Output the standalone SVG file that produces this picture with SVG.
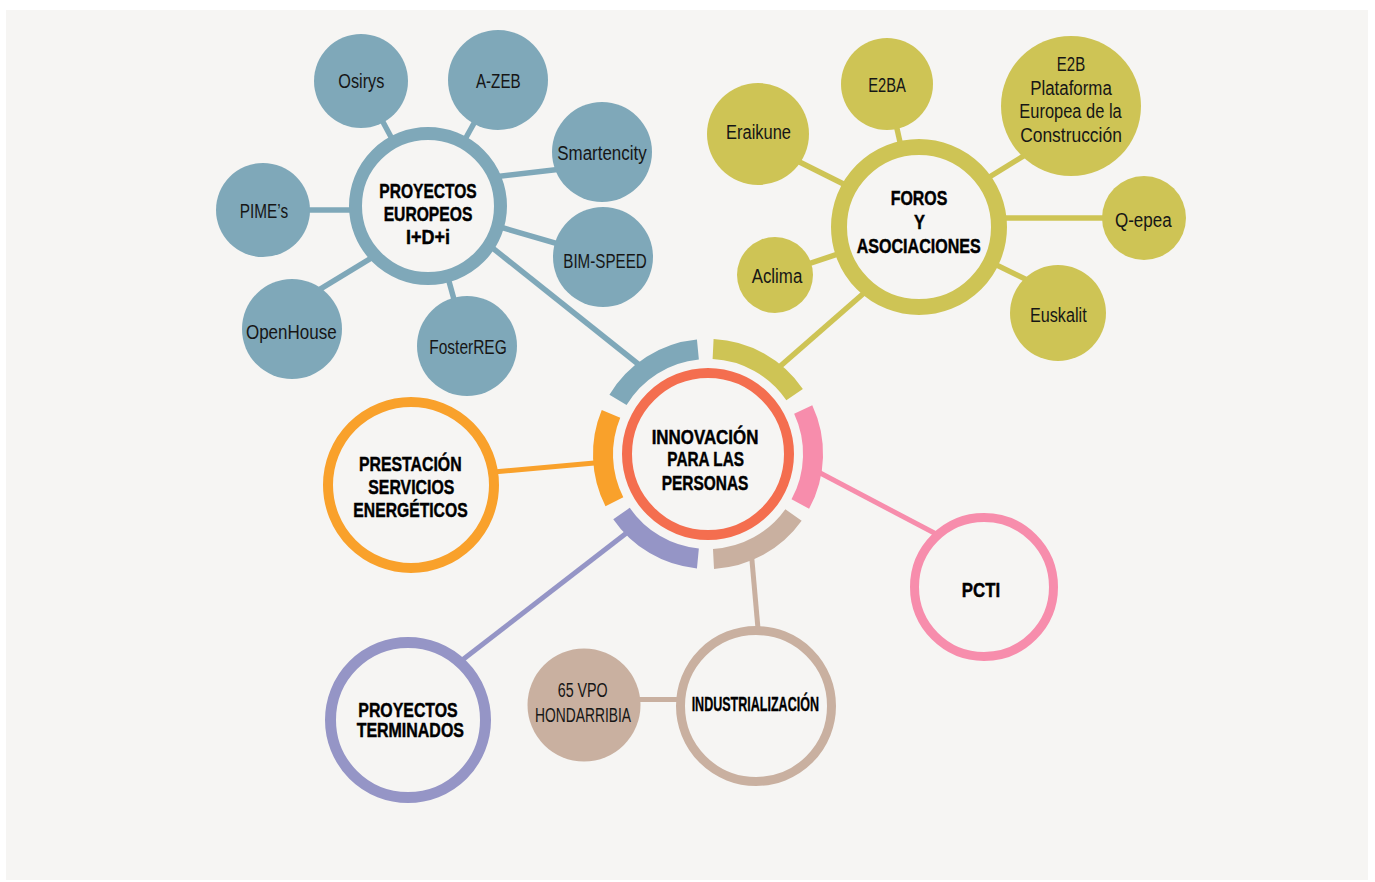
<svg xmlns="http://www.w3.org/2000/svg" width="1375" height="882" viewBox="0 0 1375 882">
<style>
.lbl{font-family:"Liberation Sans Narrow","Liberation Sans","DejaVu Sans Condensed",sans-serif;font-size:19.5px;fill:#161616;text-anchor:middle}
.bold{font-family:"Liberation Sans Narrow","Liberation Sans","DejaVu Sans Condensed",sans-serif;font-weight:700;font-size:20.5px;fill:#000000;stroke:#000000;stroke-width:0.45px;text-anchor:middle}
.teal{stroke:#7fa8b9}.olive{stroke:#cec455}.orange{stroke:#f9a12b}.red{stroke:#f46e4f}.pink{stroke:#f78dac}.purple{stroke:#9595c6}.tan{stroke:#c9b0a0}
.con{fill:none;stroke-width:5.5}
.seg{fill:none;stroke-width:20}
.ring{fill:#f6f5f3}
.tealf{fill:#7fa8b9}.olivef{fill:#cec455}.tanf{fill:#c9b0a0}
</style>
<rect x="0" y="0" width="1375" height="882" fill="#ffffff"/>
<rect x="6" y="10" width="1362" height="870" fill="#f6f5f3"/>

<g id="connectors">
  <line class="con teal" x1="361" y1="81" x2="428" y2="206"/>
  <line class="con teal" x1="498" y1="80" x2="428" y2="206"/>
  <line class="con teal" x1="470" y1="179.7" x2="590" y2="165.8"/>
  <line class="con teal" x1="603" y1="257" x2="428" y2="206"/>
  <line class="con teal" x1="467" y1="346" x2="428" y2="206"/>
  <line class="con teal" x1="300" y1="301.3" x2="400" y2="240.6"/>
  <line class="con teal" x1="263" y1="210" x2="428" y2="210"/>
  <line class="con teal" x1="470" y1="230" x2="650" y2="373.5"/>

  <line class="con olive" x1="887" y1="84" x2="919" y2="227"/>
  <line class="con olive" x1="770" y1="147.2" x2="870" y2="197.2"/>
  <line class="con olive" x1="970" y1="189" x2="1040" y2="145.8"/>
  <line class="con olive" x1="919" y1="218" x2="1144" y2="218"/>
  <line class="con olive" x1="980" y1="256.9" x2="1040" y2="286.3"/>
  <line class="con olive" x1="775" y1="275" x2="919" y2="227"/>
  <line class="con olive" x1="870" y1="287.7" x2="775" y2="370.8"/>

  <line class="con orange" x1="460" y1="475" x2="600" y2="462.6" style="stroke-width:5"/>
  <line class="con pink" x1="815" y1="470.3" x2="950" y2="541.3" style="stroke-width:5"/>
  <line class="con purple" x1="450" y1="669.6" x2="632" y2="528.7" style="stroke-width:5"/>
  <line class="con tan" x1="751.5" y1="555" x2="759" y2="640" style="stroke-width:5"/>
  <line class="con tan" x1="584" y1="699.5" x2="756" y2="699.5" style="stroke-width:5"/>
</g>

<g id="center">
  <path class="seg teal" d="M618.0,399.9 A105,105 0 0 1 697.9,349.5"/>
  <path class="seg olive" d="M713.1,349.1 A105,105 0 0 1 794.6,394.7"/>
  <path class="seg pink" d="M803.2,409.6 A105,105 0 0 1 800.3,504.1"/>
  <path class="seg tan" d="M793.5,515.0 A105,105 0 0 1 713.5,558.9"/>
  <path class="seg purple" d="M697.9,558.5 A105,105 0 0 1 621.5,513.5"/>
  <path class="seg orange" d="M614.4,501.7 A105,105 0 0 1 611.0,413.8"/>
  <circle class="ring red" cx="708" cy="454" r="81" stroke-width="10"/>
  <text class="bold" x="705" y="444" font-size="20" textLength="106.7" lengthAdjust="spacingAndGlyphs">INNOVACIÓN</text>
  <text class="bold" x="705.7" y="466" font-size="20" textLength="76.7" lengthAdjust="spacingAndGlyphs">PARA LAS</text>
  <text class="bold" x="705" y="490" font-size="20" textLength="86.7" lengthAdjust="spacingAndGlyphs">PERSONAS</text>
</g>

<g id="proyectos-europeos">
  <circle class="ring teal" cx="428" cy="206" r="72.5" stroke-width="13"/>
  <text class="bold" x="428" y="198" textLength="97.4" lengthAdjust="spacingAndGlyphs">PROYECTOS</text>
  <text class="bold" x="428" y="220.5" textLength="88.7" lengthAdjust="spacingAndGlyphs">EUROPEOS</text>
  <text class="bold" x="428" y="244" textLength="44" lengthAdjust="spacingAndGlyphs">I+D+i</text>
</g>
<g id="osirys"><circle class="tealf" cx="361" cy="81" r="47"/><text class="lbl" x="361.3" y="88" textLength="46" lengthAdjust="spacingAndGlyphs">Osirys</text></g>
<g id="a-zeb"><circle class="tealf" cx="498" cy="80" r="50"/><text class="lbl" x="498.3" y="88" textLength="44.7" lengthAdjust="spacingAndGlyphs">A-ZEB</text></g>
<g id="smartencity"><circle class="tealf" cx="602" cy="152" r="50"/><text class="lbl" x="602" y="160" textLength="89.4" lengthAdjust="spacingAndGlyphs">Smartencity</text></g>
<g id="pimes"><circle class="tealf" cx="263" cy="210" r="47"/><text class="lbl" x="264" y="218" textLength="48.3" lengthAdjust="spacingAndGlyphs">PIME’s</text></g>
<g id="bim-speed"><circle class="tealf" cx="603" cy="257" r="50"/><text class="lbl" x="605" y="268" textLength="83.4" lengthAdjust="spacingAndGlyphs">BIM-SPEED</text></g>
<g id="openhouse"><circle class="tealf" cx="292" cy="329" r="50"/><text class="lbl" x="291.3" y="339" textLength="90.7" lengthAdjust="spacingAndGlyphs">OpenHouse</text></g>
<g id="fosterreg"><circle class="tealf" cx="467" cy="346" r="50"/><text class="lbl" x="468" y="354" textLength="77.4" lengthAdjust="spacingAndGlyphs">FosterREG</text></g>

<g id="foros">
  <circle class="ring olive" cx="919" cy="227" r="80" stroke-width="16"/>
  <text class="bold" x="919" y="205" textLength="56.6" lengthAdjust="spacingAndGlyphs">FOROS</text>
  <text class="bold" x="919.5" y="229" textLength="11" lengthAdjust="spacingAndGlyphs">Y</text>
  <text class="bold" x="918.7" y="252.5" textLength="124" lengthAdjust="spacingAndGlyphs">ASOCIACIONES</text>
</g>
<g id="e2ba"><circle class="olivef" cx="887" cy="84" r="46"/><text class="lbl" x="887" y="91.5" textLength="37.7" lengthAdjust="spacingAndGlyphs">E2BA</text></g>
<g id="eraikune"><circle class="olivef" cx="758" cy="134" r="51"/><text class="lbl" x="758.5" y="139" textLength="65" lengthAdjust="spacingAndGlyphs">Eraikune</text></g>
<g id="e2b"><circle class="olivef" cx="1071" cy="106" r="70"/>
  <text class="lbl" x="1071" y="70.5" textLength="28.3" lengthAdjust="spacingAndGlyphs">E2B</text>
  <text class="lbl" x="1071" y="94.5" textLength="81.7" lengthAdjust="spacingAndGlyphs">Plataforma</text>
  <text class="lbl" x="1070.5" y="118.3" textLength="102.4" lengthAdjust="spacingAndGlyphs">Europea de la</text>
  <text class="lbl" x="1071" y="142.3" textLength="101.7" lengthAdjust="spacingAndGlyphs">Construcción</text>
</g>
<g id="q-epea"><circle class="olivef" cx="1144" cy="218" r="42"/><text class="lbl" x="1143.3" y="226.5" textLength="56.7" lengthAdjust="spacingAndGlyphs">Q-epea</text></g>
<g id="euskalit"><circle class="olivef" cx="1058" cy="313" r="48"/><text class="lbl" x="1058.3" y="321.5" textLength="56.7" lengthAdjust="spacingAndGlyphs">Euskalit</text></g>
<g id="aclima"><circle class="olivef" cx="775" cy="275" r="38"/><text class="lbl" x="777" y="283" textLength="50.6" lengthAdjust="spacingAndGlyphs">Aclima</text></g>

<g id="prestacion">
  <circle class="ring orange" cx="411" cy="485" r="83" stroke-width="10"/>
  <text class="bold" x="410.3" y="471" font-size="20" textLength="102.7" lengthAdjust="spacingAndGlyphs">PRESTACIÓN</text>
  <text class="bold" x="411.3" y="494.3" font-size="20" textLength="86" lengthAdjust="spacingAndGlyphs">SERVICIOS</text>
  <text class="bold" x="410.5" y="517.3" font-size="20" textLength="114.3" lengthAdjust="spacingAndGlyphs">ENERGÉTICOS</text>
</g>

<g id="pcti">
  <circle class="ring pink" cx="984" cy="587" r="69.5" stroke-width="9"/>
  <text class="bold" x="981" y="596.5" textLength="38.3" lengthAdjust="spacingAndGlyphs">PCTI</text>
</g>

<g id="proyectos-terminados">
  <circle class="ring purple" cx="408" cy="720" r="77.5" stroke-width="11"/>
  <text class="bold" x="408" y="716.7" font-size="20" textLength="99.4" lengthAdjust="spacingAndGlyphs">PROYECTOS</text>
  <text class="bold" x="410.3" y="737.3" font-size="20" textLength="107.3" lengthAdjust="spacingAndGlyphs">TERMINADOS</text>
</g>

<g id="industrializacion">
  <circle class="ring tan" cx="756" cy="706" r="75.5" stroke-width="9"/>
  <text class="bold" x="755.3" y="710.7" font-size="15" style="stroke-width:0.35px" textLength="127.3" lengthAdjust="spacingAndGlyphs">INDUSTRIALIZACIÓN</text>
</g>
<g id="vpo-hondarribia">
  <circle class="tanf" cx="584" cy="705" r="56.5"/>
  <text class="lbl" x="582.7" y="697.3" font-size="19" textLength="50" lengthAdjust="spacingAndGlyphs">65 VPO</text>
  <text class="lbl" x="583" y="721.7" font-size="19" textLength="96" lengthAdjust="spacingAndGlyphs">HONDARRIBIA</text>
</g>
</svg>
